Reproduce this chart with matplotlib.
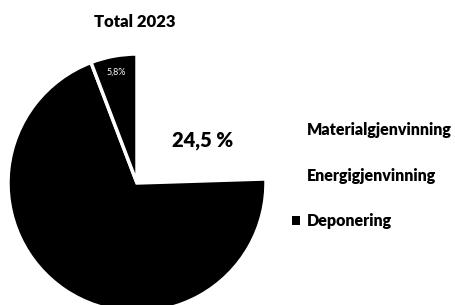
import matplotlib
matplotlib.use("Agg")
import matplotlib.pyplot as plt
from matplotlib.patches import Patch

plt.rcParams['font.family'] = ['Lato', 'DejaVu Sans']

categories = ["Materialgjenvinning", "Energigjenvinning", "Deponering"]
values = [24.5, 69.7, 5.8]
slice_colors = ["white", "black", "black"]
legend_colors = ["white", "white", "black"]
title = "Total 2023"

W, H = 456, 305
fig = plt.figure(figsize=(W / 100, H / 100), dpi=100)
ax = fig.add_axes([0, 0, 1, 1])

wedges, _ = ax.pie(values, colors=slice_colors, startangle=90, counterclock=False,
                   center=(137, H - 183), radius=129,
                   wedgeprops=dict(edgecolor='white', linewidth=2.5))
wedges[0].set_edgecolor('none')
ax.set_xlim(0, W)
ax.set_ylim(0, H)
ax.set_aspect('equal')
ax.axis('off')

# labels
ax.text(203, H - 141, f"{values[0]:.1f} %".replace(".", ","), fontsize=14.5,
        fontweight='heavy', color='black', ha='center', va='center')
ax.text(116, H - 72, f"{values[2]:.1f}%".replace(".", ","), fontsize=6.5,
        color='white', ha='center', va='center')

fig.text(135 / W, 1 - 22 / H, title, fontsize=12, fontweight='heavy',
         ha='center', va='center')

handles = [Patch(facecolor=c, edgecolor='none') for c in legend_colors]
fig.legend(handles, categories, loc='upper left',
           bbox_to_anchor=(278 / W, 1 - 108 / H), frameon=False,
           prop=dict(size=11.5, weight='heavy'), handlelength=0.45, handleheight=0.45,
           handletextpad=0.45, labelspacing=1.85)

fig.savefig("out.png", dpi=100)
